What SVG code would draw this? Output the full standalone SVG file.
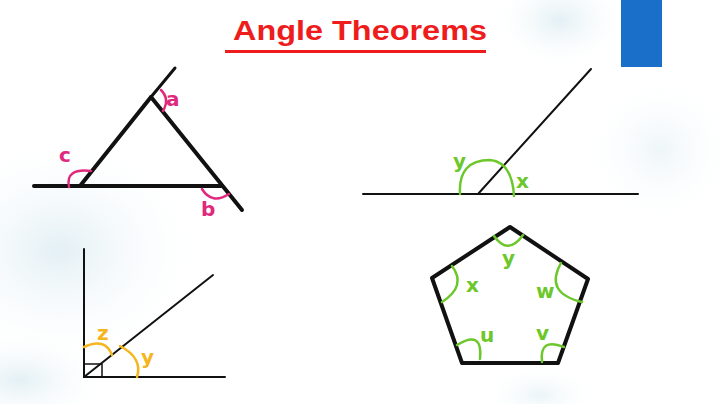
<svg xmlns="http://www.w3.org/2000/svg" width="720" height="404" viewBox="0 0 720 404">
<style>
.ln{stroke:#111;fill:none;stroke-linecap:round;stroke-linejoin:round}
.thick{stroke-width:4}
.thin{stroke-width:2}
.mg{stroke:#e0287c;stroke-width:2.5;fill:none;stroke-linecap:round}
.gr{stroke:#6cc82a;stroke-width:2.5;fill:none;stroke-linecap:round}
.yl{stroke:#f5b51e;stroke-width:2.5;fill:none;stroke-linecap:round}
.lbl{font-family:"DejaVu Sans","Liberation Sans",sans-serif;font-size:20px;font-weight:bold}
</style>
<defs>
<radialGradient id="bg1" cx="0.5" cy="0.5" r="0.5"><stop offset="0" stop-color="#dcecf2" stop-opacity="0.8"/><stop offset="1" stop-color="#ffffff" stop-opacity="0"/></radialGradient>
</defs>
<rect width="720" height="404" fill="#ffffff"/>
<ellipse cx="60" cy="250" rx="150" ry="120" fill="url(#bg1)"/>
<ellipse cx="20" cy="380" rx="90" ry="50" fill="url(#bg1)"/>
<ellipse cx="560" cy="20" rx="70" ry="50" fill="url(#bg1)"/>
<ellipse cx="660" cy="150" rx="80" ry="80" fill="url(#bg1)" opacity="0.6"/>
<ellipse cx="540" cy="395" rx="60" ry="30" fill="url(#bg1)" opacity="0.7"/>
<rect x="621" y="0" width="41" height="67" fill="#1a6fc8"/>
<g id="title">
<text x="233" y="40" textLength="254" lengthAdjust="spacingAndGlyphs" font-family="Liberation Sans, Arial, sans-serif" font-weight="bold" font-size="27" fill="#ee1c1c">Angle Theorems</text>
<line x1="225" y1="51.5" x2="486" y2="51.5" stroke="#ee1c1c" stroke-width="3"/>
</g>
<g id="triangle">
<line class="ln thick" x1="34" y1="186" x2="221" y2="186"/>
<line class="ln thick" x1="80" y1="186" x2="151" y2="97"/>
<line class="ln" stroke-width="3" x1="151" y1="97" x2="175" y2="68"/>
<line class="ln thick" x1="151" y1="97" x2="242" y2="210"/>
<path class="mg" d="M161,90 Q170,99 163,111"/>
<text class="lbl" x="166" y="106" fill="#e0287c">a</text>
<path class="mg" d="M69,187 Q65,168 91,171"/>
<text class="lbl" x="59" y="162" fill="#e0287c">c</text>
<path class="mg" d="M202,189 Q212,205 229,194"/>
<text class="lbl" x="201" y="216" fill="#e0287c">b</text>
</g>
<g id="straight-line-angles">
<line class="ln thin" x1="363" y1="194" x2="638" y2="194"/>
<line class="ln thin" x1="478" y1="194" x2="591" y2="69"/>
<path class="gr" d="M460,194 Q458,160 490,160 Q512,162 514,196"/>
<text class="lbl" x="453" y="168" fill="#6cc82a">y</text>
<text class="lbl" x="516" y="188" fill="#6cc82a">x</text>
</g>
<g id="right-angle">
<line class="ln thin" x1="84" y1="249" x2="84" y2="377"/>
<line class="ln thin" x1="84" y1="377" x2="225" y2="377"/>
<line class="ln thin" x1="84" y1="377" x2="213" y2="275"/>
<rect x="84" y="364" width="18" height="13" fill="none" stroke="#111" stroke-width="1.5"/>
<path class="yl" d="M84,347 Q105,337 112,355"/>
<path class="yl" d="M120,346 Q143,358 137,377"/>
<text class="lbl" x="97" y="340" fill="#f5b51e">z</text>
<text class="lbl" x="141" y="364" fill="#f5b51e">y</text>
</g>
<g id="pentagon">
<polygon class="ln thick" points="510,227 588,279 558,363 462,363 432,278"/>
<path class="gr" d="M494,236 Q508,256 523,235"/>
<text class="lbl" x="502" y="265" fill="#6cc82a">y</text>
<path class="gr" d="M452,266 Q467,286 442,302"/>
<text class="lbl" x="466" y="292" fill="#6cc82a">x</text>
<path class="gr" d="M561,263 Q544,293 582,302"/>
<text class="lbl" x="536" y="298" fill="#6cc82a">w</text>
<path class="gr" d="M457,345 Q483,329 480,359"/>
<text class="lbl" x="480" y="342" fill="#6cc82a">u</text>
<path class="gr" d="M542,362 Q539,337 564,347"/>
<text class="lbl" x="536" y="340" fill="#6cc82a">v</text>
</g>
</svg>
